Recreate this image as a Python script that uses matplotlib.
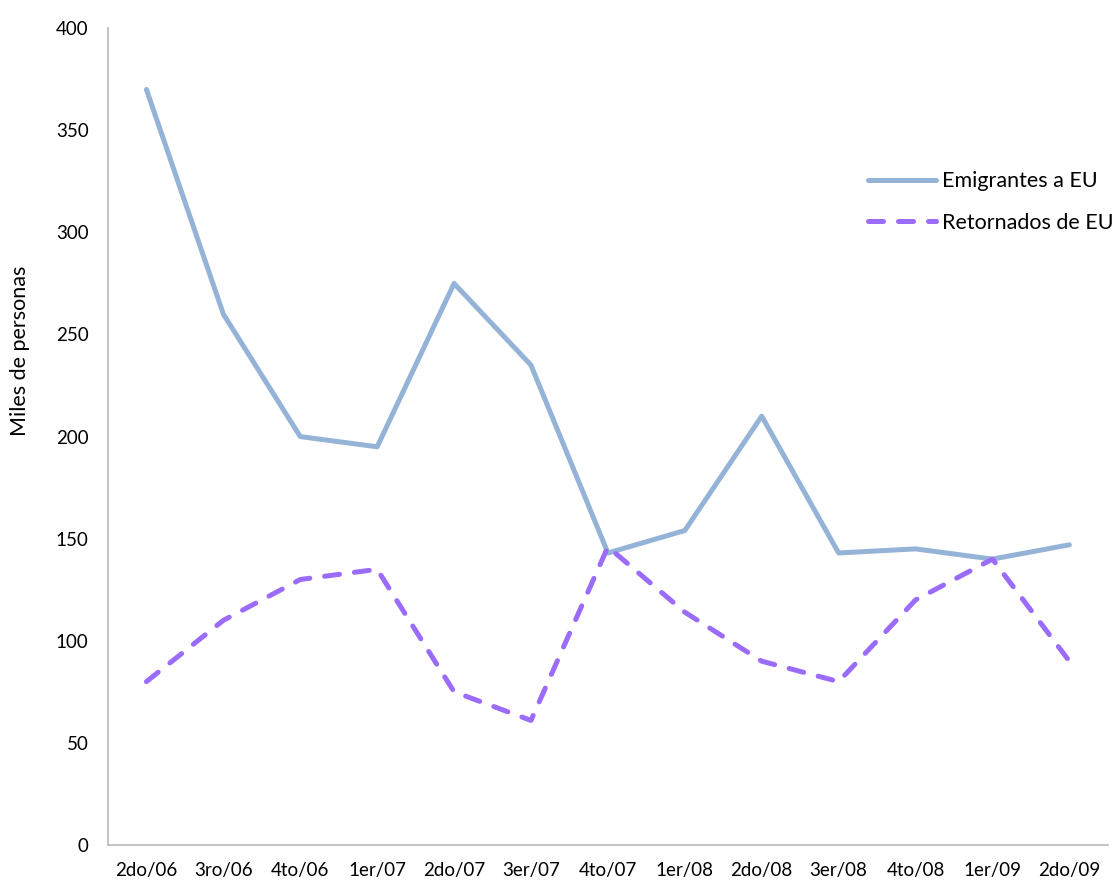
import numpy as np
import matplotlib
matplotlib.use("Agg")
import matplotlib.pyplot as plt

categories = ["2do/06", "3ro/06", "4to/06", "1er/07", "2do/07", "3er/07", "4to/07",
              "1er/08", "2do/08", "3er/08", "4to/08", "1er/09", "2do/09"]
emigrantes = [370, 260, 200, 195, 275, 235, 143, 154, 210, 143, 145, 140, 147]
retornados = [80, 110, 130, 135, 75, 61, 146, 114, 90, 80, 120, 140, 90]

plt.rcParams['font.family'] = ['Lato', 'DejaVu Sans']

fig = plt.figure(figsize=(11.19, 8.82), dpi=100)
ax = fig.add_axes([0.0965, 0.042, 0.8935, 0.926])

x = np.arange(len(categories))
ax.plot(x, emigrantes, color="#95B3D7", lw=3.6, solid_joinstyle="round",
        solid_capstyle="round", label="Emigrantes a EU")
ax.plot(x, retornados, color="#9B6BFA", lw=3.6, dashes=(3.0, 3.0),
        dash_capstyle="round", dash_joinstyle="round", label="Retornados de EU")

ax.set_xlim(-0.5, len(categories) - 0.5)
ax.set_ylim(0, 400)
ax.set_yticks(np.arange(0, 401, 50))
ax.set_xticks(x)
ax.set_xticklabels(categories)
ax.tick_params(axis="both", length=0, labelsize=13.5, colors="black")
ax.tick_params(axis="x", pad=12)
ax.tick_params(axis="y", pad=14)
for s in ["top", "right"]:
    ax.spines[s].set_visible(False)
for s in ["left", "bottom"]:
    ax.spines[s].set_color("#BEBEBE")
    ax.spines[s].set_linewidth(1.3)
ax.set_ylabel("Miles de personas", fontsize=15.5)
ax.yaxis.set_label_coords(-0.078, 0.605)

leg = fig.legend(loc="upper left", bbox_to_anchor=(0.758, 0.828), frameon=False,
                 fontsize=15.5, handlelength=3.2, handletextpad=0.25, labelspacing=1.0)

fig.savefig("out.png", dpi=100)
